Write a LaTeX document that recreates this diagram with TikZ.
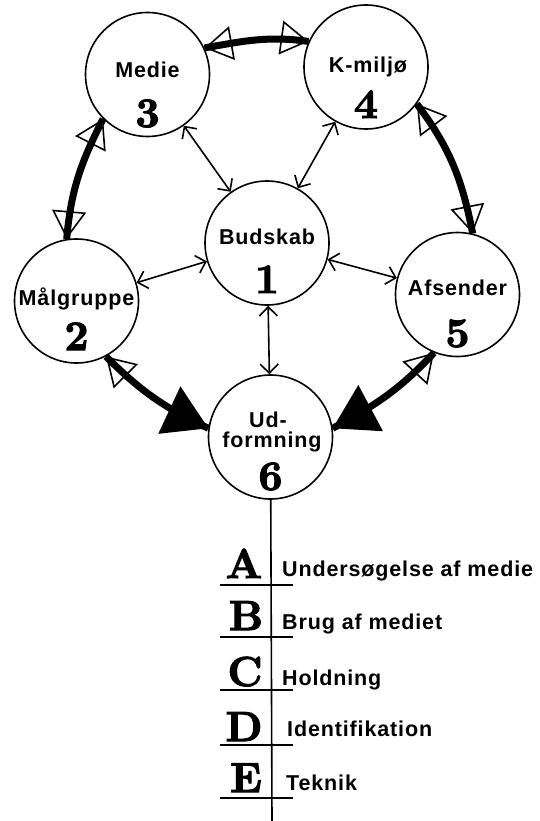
\documentclass[tikz,border=0pt]{standalone}
\usepackage{fontspec}
\usepackage{tikz}
\usetikzlibrary{arrows.meta}
\newfontfamily\labfont[LetterSpace=4]{Liberation Sans}
\newfontfamily\numfont[FakeBold=2.5]{lmroman10-bold.otf}

\begin{document}
\begin{tikzpicture}
[x=1pt,y=1pt,
 ring/.style={draw,circle,line width=1.6pt,minimum size=124pt,inner sep=0pt},
 word/.style={font=\labfont\bfseries\fontsize{21.5}{21.5}\selectfont,anchor=base,inner sep=0pt},
 numb/.style={font=\numfont\fontsize{42}{42}\selectfont,anchor=base,inner sep=0pt},
 entry/.style={font=\labfont\bfseries\fontsize{21.5}{21.5}\selectfont,anchor=base west,inner sep=0pt},
 duo/.style={line width=1.6pt,{Straight Barb[length=9pt,width=18pt]}-{Straight Barb[length=9pt,width=18pt]}},
 fat/.style={line width=7pt},
 hollow/.style={line width=1.6pt,{Triangle[open,length=28pt,width=34pt]}-{Triangle[open,length=28pt,width=34pt]}},
 hollowfull/.style={line width=1.6pt,{Triangle[open,length=28pt,width=34pt]}-{Triangle[length=43pt,width=52pt]}}]
\useasboundingbox (0,0) rectangle (540,-821);
% the six circles
\node[ring] (Bu) at (267,-243)     {};
\node[ring] (Ma) at (76.5,-301)    {};
\node[ring] (Me) at (147.5,-74.5)  {};
\node[ring] (Km) at (366,-67)      {};
\node[ring] (Af) at (457.5,-294.5) {};
\node[ring] (Ud) at (270.5,-437)   {};

\node[word] (Bu1) at (267,-244)   {Budskab};
\node[numb] (Bu2) at (267,-293)   {1};
\node[word] (Ma1) at (76.5,-305)  {Målgruppe};
\node[numb] (Ma2) at (76.5,-350)  {2};
\node[word] (Me1) at (147.5,-78)  {Medie};
\node[numb] (Me2) at (147.5,-127) {3};
\node[word] (Km1) at (368,-73)    {K-miljø};
\node[numb] (Km2) at (366,-118)   {4};
\node[word] (Af1) at (457.5,-295) {Afsender};
\node[numb] (Af2) at (457.5,-347) {5};
\node[word] (Ud1) at (268,-427)   {Ud-};
\node[word] (Ud2) at (272,-447)   {formning};
\node[numb] (Ud3) at (270.5,-490) {6};

% thin arrows from the centre
\draw[duo] (Bu) -- (Me);
\draw[duo] (Bu) -- (Km);
\draw[duo] (Bu) -- (Ma);
\draw[duo] (Bu) -- (Af);
\draw[duo] (Bu) -- (Ud);

% thick arrows round the ring
\draw[fat]    (Me.25) to[out=10,in=172] (Km.156);
\draw[hollow] (Me.25) to[out=10,in=172] (Km.156);
\draw[fat]    (Me.225) to[out=-117,in=85] (Ma.99);
\draw[hollow] (Me.225) to[out=-117,in=85] (Ma.99);
\draw[fat]    (Km.-36) to[out=-53,in=101] (Af.76);
\draw[hollow] (Km.-36) to[out=-53,in=101] (Af.76);
\draw[fat]        (Ma.-62) to[out=-45,in=155] (Ud.172);
\draw[hollowfull] (Ma.-62) to[out=-45,in=155] (Ud.172);
\draw[fat]        (Af.-112) to[out=-133,in=28] (Ud.8);
\draw[hollowfull] (Af.-112) to[out=-133,in=28] (Ud.8);

% the stem with A--E
\coordinate (Foot) at (272,-821);
\draw[line width=1.6pt] (Ud) -- (Foot);
\draw[line width=1.6pt] (220,-585) -- (293,-585);
\draw[line width=1.6pt] (220,-637) -- (293,-637);
\draw[line width=1.6pt] (220,-690) -- (293,-690);
\draw[line width=1.6pt] (220,-745) -- (293,-745);
\draw[line width=1.6pt] (220,-798) -- (293,-798);

\node[numb] (LA) at (244,-578) {A};
\node[numb] (LB) at (246,-630) {B};
\node[numb] (LC) at (245,-686) {C};
\node[numb] (LD) at (244,-741) {D};
\node[numb] (LE) at (246,-792) {E};

\node[entry] (TA) at (282,-576) {Undersøgelse af medie};
\node[entry] (TB) at (282,-629) {Brug af mediet};
\node[entry] (TC) at (282,-685) {Holdning};
\node[entry] (TD) at (287,-736) {Identifikation};
\node[entry] (TE) at (286,-790) {Teknik};
\end{tikzpicture}
\end{document}
